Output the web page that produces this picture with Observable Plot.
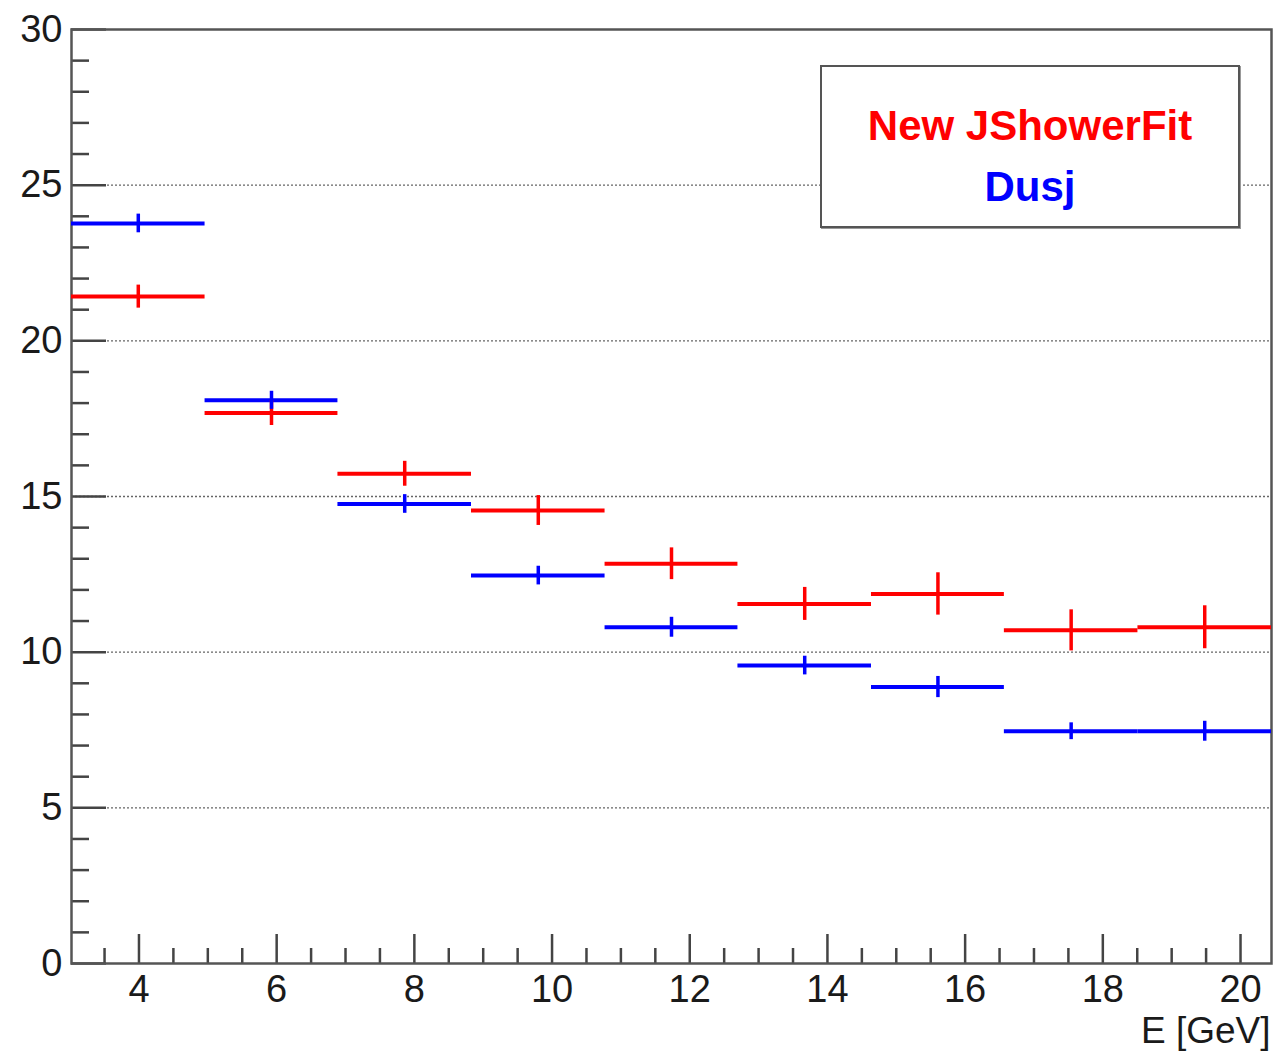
<!DOCTYPE html>
<html><head><meta charset="utf-8">
<script src="https://cdn.jsdelivr.net/npm/d3@7"></script>
<script src="https://cdn.jsdelivr.net/npm/@observablehq/plot@0.6"></script>
<style>
body{margin:0;background:#fff;font-family:"Liberation Sans",Arial,sans-serif;}
#wrap{position:relative;width:1277px;height:1053px;}
#legend{position:absolute;left:820px;top:65px;width:416px;border:2px solid #555;background:#fff;box-shadow:1px 1px 0 #999;
  font-family:"Liberation Sans",Arial,sans-serif;font-weight:bold;font-size:42px;line-height:61px;text-align:center;padding-top:28px;box-sizing:content-box;height:131px;}
</style></head><body><div id="wrap"></div>
<script>
// Bin edges of the histograms (E [GeV])
const binEdges = [3.02, 4.96, 6.89, 8.83, 10.77, 12.70, 14.64, 16.57, 18.51, 20.45];
// Series: New JShowerFit (red) and Dusj (blue)
const jshowerValues = [21.42, 17.68, 15.73, 14.55, 12.84, 11.55, 11.87, 10.70, 10.80];
const jshowerErrors = [0.37, 0.40, 0.40, 0.48, 0.51, 0.53, 0.68, 0.66, 0.69];
const dusjValues    = [23.77, 18.09, 14.76, 12.46, 10.80, 9.57, 8.88, 7.46, 7.46];
const dusjErrors    = [0.30, 0.29, 0.30, 0.30, 0.32, 0.30, 0.34, 0.27, 0.32];
const seriesNames = ["New JShowerFit", "Dusj"];
const seriesColors = ["#ff0000", "#0000ff"];
// Ticks
const yMajorTicks = [0, 5, 10, 15, 20, 25, 30];
const yGridTicks = [5, 10, 15, 20, 25];
const yMinorTicks = [1,2,3,4,6,7,8,9,11,12,13,14,16,17,18,19,21,22,23,24,26,27,28,29];
const xMajorTicks = [4, 6, 8, 10, 12, 14, 16, 18, 20];
const xMinorTicks = [3.5,4.5,5,5.5,6.5,7,7.5,8.5,9,9.5,10.5,11,11.5,12.5,13,13.5,14.5,15,15.5,16.5,17,17.5,18.5,19,19.5];
const xLabel = "E [GeV]";

const rows = [];
[[jshowerValues, jshowerErrors], [dusjValues, dusjErrors]].forEach(([vals, errs], s) => {
  vals.forEach((v, i) => rows.push({
    series: seriesNames[s], lo: binEdges[i], hi: binEdges[i + 1],
    mid: (binEdges[i] + binEdges[i + 1]) / 2, v, e: errs[i]
  }));
});

const axisStroke = "#444";
const chart = Plot.plot({
  width: 1277, height: 1053,
  marginLeft: 71, marginRight: 6, marginTop: 29, marginBottom: 90,
  style: {fontFamily: "'Liberation Sans', Arial, sans-serif", background: "#fff", color: "#1a1a1a"},
  x: {domain: [binEdges[0], binEdges[binEdges.length - 1]], axis: null},
  y: {domain: [0, 30], axis: null},
  color: {domain: seriesNames, range: seriesColors},
  marks: [
    Plot.gridY(yGridTicks, {stroke: "#666", strokeOpacity: 1, strokeWidth: 1.4, strokeDasharray: "2,2"}),
    Plot.axisY(yMajorTicks, {tickSize: -35, fill: "none", stroke: axisStroke, strokeWidth: 2.5, label: null}),
    Plot.axisY(yMinorTicks, {tickSize: -18, fill: "none", stroke: axisStroke, strokeWidth: 2.5, label: null}),
    Plot.axisY(yMajorTicks, {tickSize: 0, tickPadding: 9, fontSize: 38, label: null, fill: "#1a1a1a"}),
    Plot.axisX(xMajorTicks, {tickSize: -29, fill: "none", stroke: axisStroke, strokeWidth: 2.5, label: null}),
    Plot.axisX(xMinorTicks, {tickSize: -15, fill: "none", stroke: axisStroke, strokeWidth: 2.5, label: null}),
    Plot.axisX(xMajorTicks, {tickSize: 0, tickPadding: 12, fontSize: 38, label: null, fill: "#1a1a1a"}),
    Plot.text([xLabel], {frameAnchor: "bottom-right", text: d => d, textAnchor: "end", lineAnchor: "bottom", dy: 79, dx: -1, fontSize: 37, fill: "#1a1a1a"}),
    Plot.frame({stroke: "#555", strokeWidth: 2.5}),
    Plot.ruleY(rows, {y: "v", x1: "lo", x2: "hi", stroke: "series", strokeWidth: 4}),
    Plot.ruleX(rows, {x: "mid", y1: d => d.v - d.e, y2: d => d.v + d.e, stroke: "series", strokeWidth: 3.5})
  ]
});
const wrap = document.getElementById("wrap");
wrap.appendChild(chart);
const legend = document.createElement("div");
legend.id = "legend";
legend.innerHTML = seriesNames.map((n, i) => `<div style="color:${seriesColors[i]}">${n}</div>`).join("");
wrap.appendChild(legend);
</script></body></html>
